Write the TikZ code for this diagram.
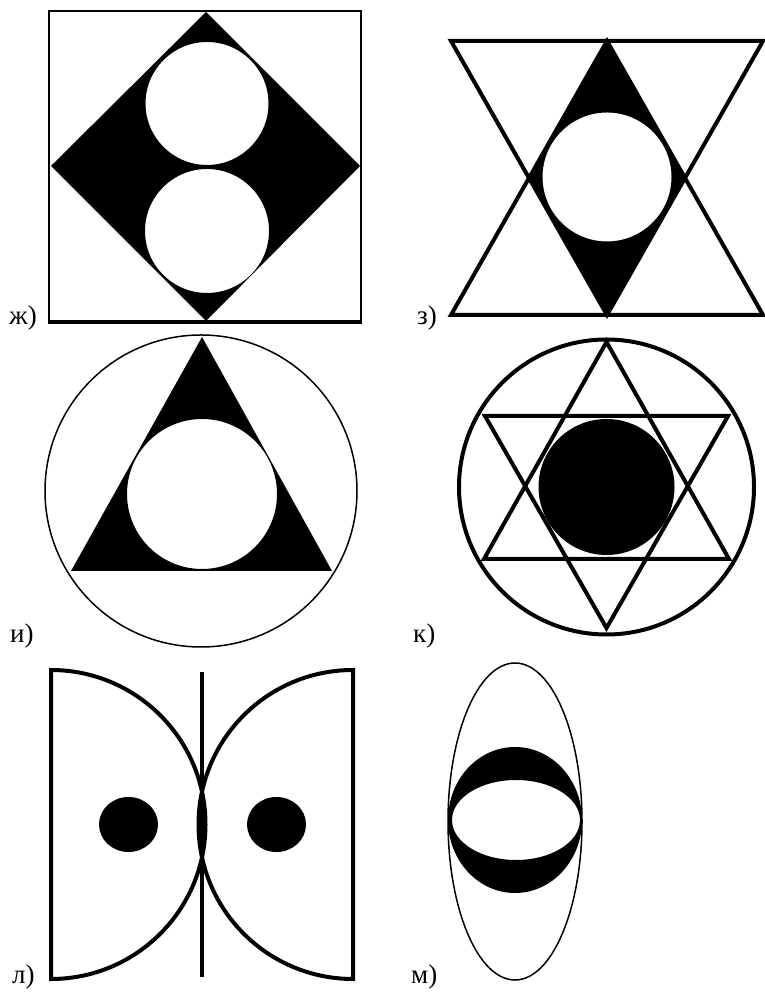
\documentclass[tikz,border=0pt]{standalone}
\usepackage{fontspec}
\setmainfont{Liberation Serif}
\begin{document}
\begin{tikzpicture}[x=1pt,y=1pt,
  lbl/.style={anchor=base west,inner sep=0pt,font=\fontsize{27}{30}\selectfont},
  thick4/.style={line width=4pt,line join=miter},
  thin/.style={line width=1.5pt}]
\useasboundingbox (0,0) rectangle (764,992);
% ж
\fill[black,even odd rule] (206,980) -- (360,826) -- (206,671) -- (51,826) -- cycle
  (207,888.5) circle[radius=61.5pt] (207,761) circle[radius=62pt];
\draw[line width=2.5pt] (49,981) rectangle (361,670);
\draw[line width=3.5pt] (47.75,670) -- (362.25,670);
\node[lbl] (lz) at (9,667) {ж)};
% з
\fill[black,even odd rule] (607,951) -- (685,814) -- (607,677) -- (529,814) -- cycle
  (607,815) circle[radius=64.5pt];
\draw[thick4] (451,951) -- (763,951) -- (607,677) -- cycle;
\draw[thick4] (451,677) -- (763,677) -- (607,951) -- cycle;
\node[lbl] (lze) at (417,667) {з)};
% и
\fill[black,even odd rule] (202,655) -- (332,421) -- (71,421) -- cycle
  (202,498) circle[radius=75pt];
\draw[thin] (201,501) circle[radius=156pt];
\node[lbl] (li) at (10,349) {и)};
% к
\draw[thick4] (606.5,505) circle[radius=147.5pt];
\draw[thick4] (606.5,650) -- (729,433) -- (484,433) -- cycle;
\draw[thick4] (485,576) -- (728,576) -- (606.5,364) -- cycle;
\fill[black] (606.5,505) circle[radius=68pt];
\node[lbl] (lk) at (413,349) {к)};
% л
\draw[line width=4pt] (51,13) -- (51,322) arc[start angle=90,end angle=-90,radius=154.5pt] -- cycle;
\draw[line width=4pt] (353,13) -- (353,322) arc[start angle=90,end angle=270,radius=154.5pt] -- cycle;
\draw[line width=3.5pt] (202,320) -- (202,15);
\fill[black] (128.5,167.5) ellipse[x radius=29.5pt,y radius=27.5pt];
\fill[black] (276.5,167.5) ellipse[x radius=29.5pt,y radius=27.5pt];
\node[lbl] (ll) at (12,9) {л)};
% м
\fill[black,even odd rule] (515,172) ellipse[x radius=67pt,y radius=73pt]
  (516,172) ellipse[x radius=64pt,y radius=40pt];
\draw[thin] (515,170.5) ellipse[x radius=67pt,y radius=158.5pt];
\node[lbl] (lm) at (411,9) {м)};
\end{tikzpicture}
\end{document}
